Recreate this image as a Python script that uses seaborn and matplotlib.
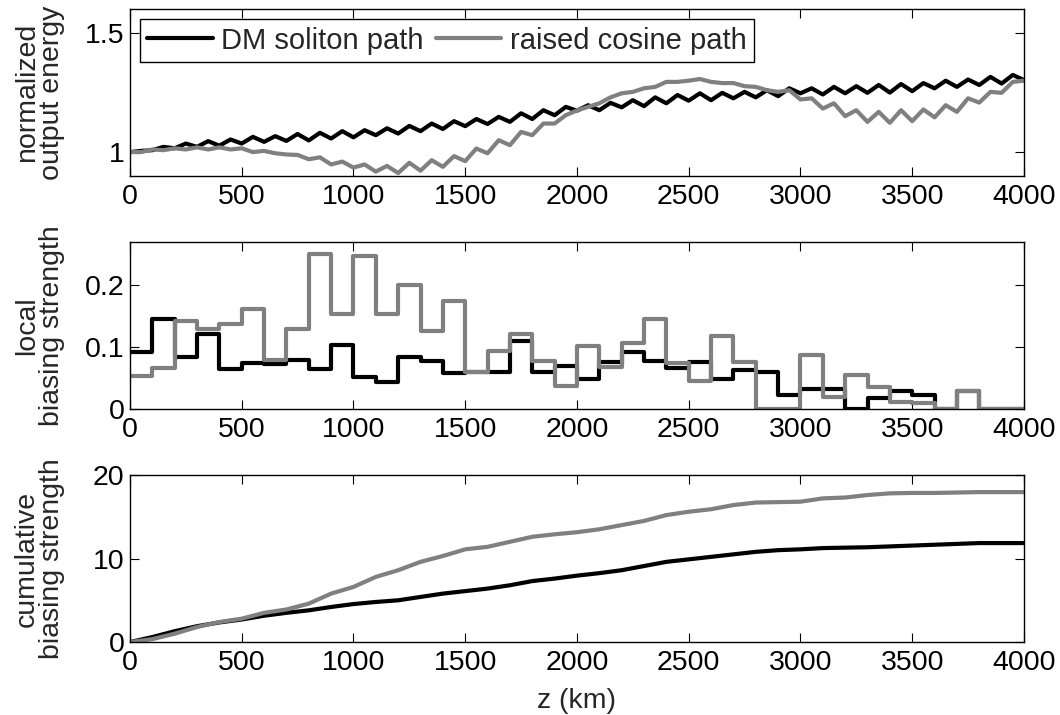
import numpy as np
import pandas as pd
import matplotlib
matplotlib.use("Agg")
import matplotlib.pyplot as plt
import seaborn as sns

# ---------------- data ----------------
z_energy = np.arange(0, 4001, 50)  # km
energy_dm = [
    1.000, 1.005, 1.008, 1.022, 1.016, 1.036, 1.022, 1.046, 1.027, 1.053,
    1.036, 1.064, 1.043, 1.067, 1.047, 1.076, 1.049, 1.081, 1.057, 1.088,
    1.062, 1.092, 1.071, 1.100, 1.078, 1.110, 1.088, 1.120, 1.097, 1.130,
    1.109, 1.139, 1.118, 1.148, 1.127, 1.163, 1.139, 1.176, 1.155, 1.190,
    1.174, 1.197, 1.176, 1.207, 1.188, 1.218, 1.193, 1.230, 1.205, 1.240,
    1.216, 1.247, 1.218, 1.249, 1.226, 1.253, 1.230, 1.260, 1.235, 1.268,
    1.247, 1.268, 1.242, 1.274, 1.247, 1.277, 1.249, 1.282, 1.250, 1.286,
    1.256, 1.290, 1.268, 1.300, 1.274, 1.305, 1.282, 1.316, 1.288, 1.324,
    1.303,
]
energy_rc = [
    1.000, 1.000, 1.011, 1.008, 1.016, 1.011, 1.020, 1.011, 1.020, 1.011,
    1.016, 1.000, 1.005, 0.995, 0.990, 0.988, 0.970, 0.978, 0.948, 0.960,
    0.935, 0.948, 0.918, 0.942, 0.912, 0.955, 0.922, 0.966, 0.938, 0.983,
    0.962, 1.015, 0.995, 1.050, 1.029, 1.085, 1.071, 1.120, 1.120, 1.155,
    1.175, 1.190, 1.205, 1.230, 1.247, 1.253, 1.268, 1.274, 1.295, 1.295,
    1.300, 1.307, 1.295, 1.290, 1.290, 1.277, 1.274, 1.260, 1.253, 1.260,
    1.221, 1.226, 1.183, 1.205, 1.151, 1.176, 1.127, 1.169, 1.123, 1.176,
    1.130, 1.179, 1.146, 1.197, 1.169, 1.226, 1.208, 1.253, 1.249, 1.295,
    1.300,
]

z_steps = np.arange(0, 4001, 100)  # step edges, km
local_dm = [
    0.092, 0.145, 0.084, 0.122, 0.064, 0.074, 0.073, 0.079, 0.064, 0.103,
    0.052, 0.044, 0.084, 0.078, 0.058, 0.060, 0.060, 0.110, 0.059, 0.070,
    0.048, 0.076, 0.092, 0.078, 0.066, 0.076, 0.048, 0.063, 0.060, 0.023,
    0.032, 0.032, 0.000, 0.017, 0.029, 0.023, 0.000, 0.029, 0.000, 0.000,
]
local_rc = [
    0.054, 0.066, 0.143, 0.129, 0.137, 0.162, 0.079, 0.129, 0.251, 0.153,
    0.247, 0.153, 0.200, 0.126, 0.174, 0.060, 0.094, 0.121, 0.078, 0.037,
    0.102, 0.068, 0.107, 0.145, 0.075, 0.046, 0.118, 0.076, 0.000, 0.000,
    0.087, 0.020, 0.055, 0.036, 0.011, 0.009, 0.000, 0.029, 0.000, 0.000,
]

z_cum = np.arange(0, 4001, 100)  # km
cum_dm = [
    0.0, 0.6, 1.3, 1.9, 2.35, 2.7, 3.15, 3.5, 3.8, 4.2,
    4.55, 4.8, 5.0, 5.4, 5.8, 6.1, 6.4, 6.8, 7.3, 7.6,
    7.95, 8.25, 8.6, 9.1, 9.6, 9.9, 10.2, 10.5, 10.8, 11.0,
    11.1, 11.25, 11.3, 11.35, 11.45, 11.55, 11.65, 11.75, 11.85, 11.85,
    11.85,
]
cum_rc = [
    0.0, 0.35, 1.0, 1.8, 2.4, 2.8, 3.5, 3.9, 4.6, 5.8,
    6.6, 7.8, 8.6, 9.6, 10.3, 11.1, 11.4, 12.0, 12.6, 12.9,
    13.15, 13.5, 14.0, 14.5, 15.2, 15.6, 15.9, 16.4, 16.7, 16.75,
    16.8, 17.2, 17.3, 17.6, 17.8, 17.85, 17.85, 17.9, 17.95, 17.95,
    17.95,
]

series_names = ["DM soliton path", "raised cosine path"]
x_ticks = [0, 500, 1000, 1500, 2000, 2500, 3000, 3500, 4000]
x_tick_labels = ["0", "500", "1000", "1500", "2000", "2500", "3000", "3500", "4000"]
y_ticks_1, y_tick_labels_1 = [1.0, 1.5], ["1", "1.5"]
y_ticks_2, y_tick_labels_2 = [0.0, 0.1, 0.2], ["0", "0.1", "0.2"]
y_ticks_3, y_tick_labels_3 = [0, 10, 20], ["0", "10", "20"]
ylabels = ["normalized\noutput energy", "local\nbiasing strength",
           "cumulative\nbiasing strength"]
xlabel = "z (km)"

# ---------------- style ----------------
FS = 20.5
sns.set_theme(style="ticks")
plt.rcParams["font.family"] = ["Liberation Sans", "DejaVu Sans"]
plt.rcParams.update({
    "xtick.direction": "in", "ytick.direction": "in",
    "xtick.top": True, "ytick.right": True,
    "xtick.major.size": 6.5, "ytick.major.size": 6.5,
    "xtick.major.width": 0.8, "ytick.major.width": 0.8,
    "axes.edgecolor": "black", "axes.linewidth": 1.0,
    "xtick.color": "black", "ytick.color": "black",
    "font.size": FS,
})

palette = {series_names[0]: "#000000", series_names[1]: "#808080"}
lw = 3.0

fig = plt.figure(figsize=(10.6, 7.15), dpi=100)
left, width = 0.1226, 0.8434
ax1 = fig.add_axes([left, 0.754, width, 0.233])
ax2 = fig.add_axes([left, 0.428, width, 0.2335])
ax3 = fig.add_axes([left, 0.102, width, 0.2337])

# panel 1
df1 = pd.DataFrame({
    "z": np.concatenate([z_energy, z_energy]),
    "v": np.concatenate([energy_dm, energy_rc]),
    "path": [series_names[0]] * len(z_energy) + [series_names[1]] * len(z_energy),
})
sns.lineplot(data=df1, x="z", y="v", hue="path", palette=palette, lw=lw,
             ax=ax1, estimator=None, sort=False)
ax1.set_ylim(0.9, 1.6)
ax1.set_yticks(y_ticks_1, y_tick_labels_1)

# panel 2 (steps)
ld = list(local_dm) + [local_dm[-1]]
lr = list(local_rc) + [local_rc[-1]]
df2 = pd.DataFrame({
    "z": np.concatenate([z_steps, z_steps]),
    "v": np.concatenate([ld, lr]),
    "path": [series_names[0]] * len(z_steps) + [series_names[1]] * len(z_steps),
})
sns.lineplot(data=df2[df2.path == series_names[0]], x="z", y="v", color="#000000",
             lw=lw, ax=ax2, drawstyle="steps-post", estimator=None, legend=False)
sns.lineplot(data=df2[df2.path == series_names[1]], x="z", y="v", color="#808080",
             lw=lw, ax=ax2, drawstyle="steps-post", estimator=None, legend=False)
ax2.set_ylim(0, 0.27)
ax2.set_yticks(y_ticks_2, y_tick_labels_2)

# panel 3
df3 = pd.DataFrame({
    "z": np.concatenate([z_cum, z_cum]),
    "v": np.concatenate([cum_dm, cum_rc]),
    "path": [series_names[0]] * len(z_cum) + [series_names[1]] * len(z_cum),
})
sns.lineplot(data=df3, x="z", y="v", hue="path", palette=palette, lw=lw,
             ax=ax3, estimator=None, legend=False)
ax3.set_ylim(0, 20)
ax3.set_yticks(y_ticks_3, y_tick_labels_3)

for ax, yl in zip([ax1, ax2, ax3], ylabels):
    ax.set_xlim(0, 4000)
    ax.set_xticks(x_ticks, x_tick_labels)
    ax.set_xlabel("")
    ax.set_ylabel(yl, fontsize=FS, linespacing=0.95)
    ax.yaxis.set_label_coords(-0.073, 0.5)
    ax.tick_params(axis="x", labelsize=FS, pad=6)
    ax.tick_params(axis="y", labelsize=FS, pad=4)
    for s in ax.spines.values():
        s.set_visible(True)
        s.set_color("black")

ax3.set_xlabel(xlabel, fontsize=FS, labelpad=8)

leg = ax1.legend(loc="upper left", bbox_to_anchor=(0.011, 0.94), ncol=2,
                 fontsize=21.0, frameon=True, fancybox=False, framealpha=1,
                 edgecolor="black", borderaxespad=0, handlelength=2.25,
                 handletextpad=0.3, columnspacing=0.4, borderpad=0.25)
leg.get_frame().set_linewidth(1.0)
for h in leg.get_lines():
    h.set_linewidth(lw)

fig.savefig("out.png", dpi=100)
